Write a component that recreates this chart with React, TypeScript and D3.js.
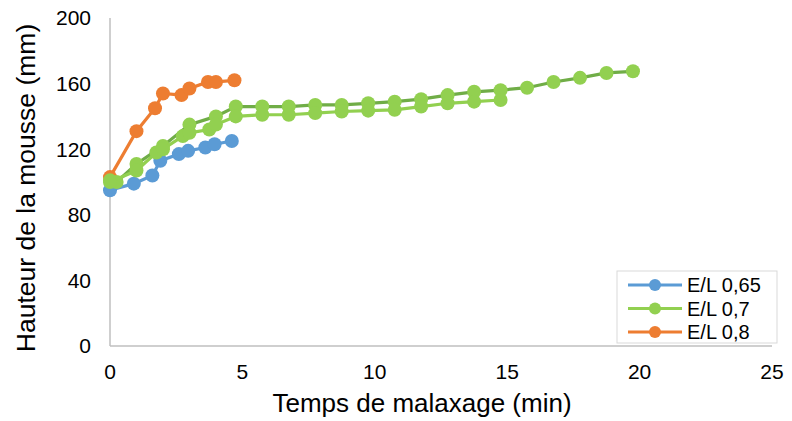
import React from "react";
import * as d3 from "d3";

const xTicks = [0, 5, 10, 15, 20, 25];
const yTicks = [0, 40, 80, 120, 160, 200];

const t065 = [0, 0.9, 1.6, 1.9, 2.6, 2.95, 3.6, 3.95, 4.6];
const h065 = [95, 99, 104, 113, 117, 119, 121, 123, 125];

const t08 = [0, 1.0, 1.7, 2.0, 2.7, 3.0, 3.7, 4.0, 4.7];
const h08 = [103, 131, 145, 154, 153, 157, 161, 161, 162];

const t07 = [0, 1.0, 1.75, 2.0, 2.75, 3.0, 3.75, 4.0, 4.75, 5.75, 6.75, 7.75, 8.75, 9.75, 10.75, 11.75, 12.75, 13.75, 14.75];
const h07 = [100, 107, 118, 120, 128, 130, 132, 135, 140, 141, 141, 142, 143, 143.5, 144, 146, 148, 149, 150];

const t07b = [0, 0.25, 1.0, 2.0, 3.0, 4.0, 4.75, 5.75, 6.75, 7.75, 8.75, 9.75, 10.75, 11.75, 12.75, 13.75, 14.75, 15.75, 16.75, 17.75, 18.75, 19.75];
const h07b = [101, 100, 111, 122, 135, 140, 146, 146, 146, 147, 147, 148, 149, 150.5, 153, 155, 156, 157.5, 161, 163.5, 166.5, 167.5];

const legendLabels = ["E/L 0,65", "E/L 0,7", "E/L 0,8"];

const W = 792;
const H = 421;
const FONT = "'Liberation Sans', Arial, sans-serif";

export default function App() {
  const x = d3.scaleLinear().domain([0, 25]).range([110, 772]);
  const y = d3.scaleLinear().domain([0, 200]).range([346, 18]);

  const series = [
    { t: t065, h: h065, line: "#5B9BD5", fill: "#5B9BD5" },
    { t: t08, h: h08, line: "#ED7D31", fill: "#ED7D31" },
    { t: t07b, h: h07b, line: "#70AD47", fill: "#92D050" },
    { t: t07, h: h07, line: "#92D050", fill: "#92D050" },
  ];

  const lineGen = d3
    .line<[number, number]>()
    .x((d) => x(d[0]))
    .y((d) => y(d[1]));

  const legend = [
    { label: legendLabels[0], color: "#5B9BD5" },
    { label: legendLabels[1], color: "#92D050" },
    { label: legendLabels[2], color: "#ED7D31" },
  ];

  const lx = 617;
  const ly = 271;

  return (
    <svg
      width={W}
      height={H}
      style={{ position: "absolute", left: 0, top: 0, background: "#fff" }}
      fontFamily={FONT}
    >
      <rect x={0} y={0} width={W} height={H} fill="#fff" />
      <line x1={x(0)} x2={x(0)} y1={y(0)} y2={y(200)} stroke="#bfbfbf" strokeWidth={1.5} />
      <line x1={x(0)} x2={x(25)} y1={y(0)} y2={y(0)} stroke="#bfbfbf" strokeWidth={1.5} />

      {yTicks.map((v) => (
        <text key={"y" + v} x={91} y={y(v)} dy="0.35em" textAnchor="end" fontSize={21} fill="#000">
          {v}
        </text>
      ))}
      {xTicks.map((v) => (
        <text key={"x" + v} x={x(v)} y={372} dy="0.35em" textAnchor="middle" fontSize={21} fill="#000">
          {v}
        </text>
      ))}

      <text x={422} y={412} textAnchor="middle" fontSize={26} fill="#000">
        Temps de malaxage (min)
      </text>
      <text
        transform={`translate(35, ${y(100) + 6}) rotate(-90)`}
        textAnchor="middle"
        fontSize={26.5}
        fill="#000"
      >
        Hauteur de la mousse (mm)
      </text>

      {series.map((s, i) => {
        const pts = s.t.map((t, j) => [t, s.h[j]] as [number, number]);
        return (
          <g key={i}>
            <path d={lineGen(pts) || ""} fill="none" stroke={s.line} strokeWidth={3.2} />
            {pts.map((p, j) => (
              <circle key={j} cx={x(p[0])} cy={y(p[1])} r={7} fill={s.fill} />
            ))}
          </g>
        );
      })}

      <rect x={lx} y={ly} width={160} height={72} fill="#fff" stroke="#d9d9d9" strokeWidth={1} />
      {legend.map((e, i) => {
        const cy = ly + 14 + i * 23.5;
        return (
          <g key={e.label}>
            <line x1={lx + 11} x2={lx + 65} y1={cy} y2={cy} stroke={e.color} strokeWidth={3.2} />
            <circle cx={lx + 38} cy={cy} r={6} fill={e.color} />
            <text x={lx + 70} y={cy} dy="0.35em" fontSize={20} fill="#000">
              {e.label}
            </text>
          </g>
        );
      })}
    </svg>
  );
}
